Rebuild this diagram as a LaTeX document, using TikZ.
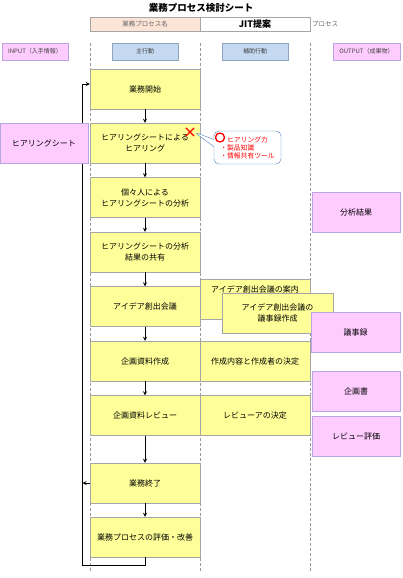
\documentclass[tikz,border=0pt]{standalone}
\usepackage{fontspec}
\setmainfont{Noto Sans CJK JP}
\usetikzlibrary{shapes.callouts,shapes.misc}
\definecolor{boxyellow}{HTML}{FFFF99}
\definecolor{boxpink}{HTML}{FFCCFF}
\definecolor{pinkline}{HTML}{B9A6E0}
\definecolor{headblue}{HTML}{C5D9F1}
\definecolor{headline}{HTML}{8EA4C0}
\definecolor{peach}{HTML}{FCE4D6}
\definecolor{memoline}{HTML}{4F81BD}
\begin{document}
\begin{tikzpicture}[x=1pt, y=-1pt,
    mainbox/.style={rectangle, draw=gray!70, fill=boxyellow, minimum width=110pt, minimum height=40pt, inner sep=1pt, align=center, font=\fontsize{8}{11}\selectfont},
    pinkbox/.style={rectangle, draw=pinkline, fill=boxpink, minimum width=88pt, minimum height=40pt, inner sep=1pt, align=center, font=\fontsize{8}{11}\selectfont},
    headbox/.style={rectangle, draw=headline, fill=headblue, minimum width=66pt, minimum height=17pt, inner sep=1pt, text=black!75, font=\fontsize{6}{7}\selectfont},
    lane/.style={densely dashed, draw=gray!80, thin},
    flow/.style={->, >=stealth, thick},
]
\useasboundingbox (0,0) rectangle (402,578);
\node[font=\bfseries\fontsize{9.5}{10}\selectfont] (title) at (201,8) {業務プロセス検討シート};
\node[rectangle, draw=gray!70, fill=peach, minimum width=110pt, minimum height=14pt, inner sep=0pt, text=black!60, font=\fontsize{6.5}{7}\selectfont] (pname) at (145,24) {業務プロセス名};
\node[rectangle, draw=gray!70, fill=white, minimum width=110pt, minimum height=14pt, inner sep=0pt, font=\bfseries\fontsize{9}{10}\selectfont] (pvalue) at (255,24) {JIT提案};
\node[anchor=west, inner sep=1pt, text=black!60, font=\fontsize{6.5}{7}\selectfont] (psuffix) at (311,24) {プロセス};
\node[headbox, draw=pinkline, fill=boxpink] (hin) at (35,51.5) {INPUT（入手情報）};
\node[headbox] (hmain) at (145,51.5) {主行動};
\node[headbox] (hsub) at (255,51.5) {補助行動};
\node[headbox, draw=pinkline, fill=boxpink, minimum width=67pt] (hout) at (366.5,51.5) {OUTPUT（成果物）};
\foreach \lx in {90,200,310}
    \draw[lane] (\lx,43) -- (\lx,571);
\node[mainbox] (b1) at (145,89) {業務開始};
\node[mainbox] (b2) at (145,143) {ヒアリングシートによる\\ヒアリング};
\node[mainbox] (b3) at (145,197.5) {個々人による\\ヒアリングシートの分析};
\node[mainbox] (b4) at (145,252) {ヒアリングシートの分析\\結果の共有};
\node[mainbox] (b5) at (145,306.5) {アイデア創出会議};
\node[mainbox] (b6) at (145,361) {企画資料作成};
\node[mainbox] (b7) at (145,415.5) {企画資料レビュー};
\node[mainbox] (b8) at (145,483) {業務終了};
\node[mainbox] (b9) at (145,537) {業務プロセスの評価・改善};
\node[mainbox] (s1) at (255,299) {};
\node[font=\fontsize{8}{11}\selectfont] (s1text) at (255,289) {アイデア創出会議の案内};
\node[mainbox, minimum width=111pt] (s2) at (277.5,313) {アイデア創出会議の\\議事録作成};
\node[mainbox] (s3) at (255,361) {作成内容と作成者の決定};
\node[mainbox] (s4) at (255,415.5) {レビューアの決定};
\node[pinkbox] (o1) at (356,212) {分析結果};
\node[pinkbox, minimum width=89pt] (o2) at (355.5,332) {議事録};
\node[pinkbox] (o3) at (356,391) {企画書};
\node[pinkbox] (o4) at (356,436.5) {レビュー評価};
\draw[flow] (b1) -- (b2);
\draw[flow] (b2) -- (b3);
\draw[flow] (b3) -- (b4);
\draw[flow] (b4) -- (b5);
\draw[flow] (b5) -- (b6);
\draw[flow] (b6) -- (b7);
\draw[flow] (b7) -- (b8);
\draw[flow] (b8) -- (b9);
\coordinate (loopbot) at (82.5,565);
\coordinate (looptop) at (82.5,84);
\draw[flow] (b9.south) |- (loopbot) -- (looptop) -- (looptop -| b1.west);
\draw[flow] (b8.west) -- (b8.west -| loopbot);
\node[pinkbox] (i1) at (44,143) {ヒアリングシート};
\node[cross out, draw=red, line width=1.2pt, minimum size=7pt, inner sep=0pt] (xmark) at (190,132) {};
\node[rectangle callout, rounded corners=5pt, draw=memoline, fill=white, minimum width=67pt, minimum height=33pt, inner sep=1pt, callout absolute pointer={(xmark.east)}, align=left, text=red, font=\fontsize{6.8}{8}\selectfont] (memo) at (247.5,147.5) {・ヒアリング力\\・製品知識\\・情報共有ツール};
\node[circle, draw=red, line width=1.3pt, minimum size=9pt, inner sep=0pt] (ring) at (220,137.5) {};
\end{tikzpicture}
\end{document}
